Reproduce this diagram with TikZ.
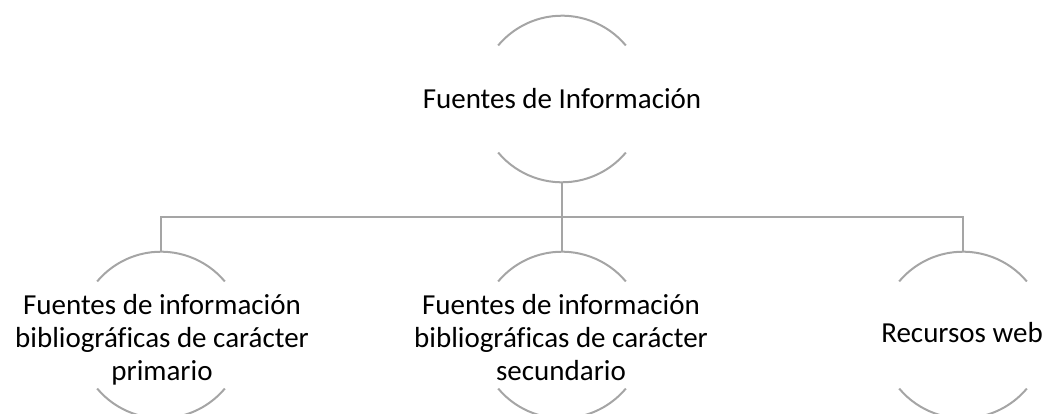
\documentclass[tikz,border=0pt]{standalone}
\usepackage{fontspec}
\setmainfont{Carlito}[Ligatures=NoCommon]
\begin{document}
\begin{tikzpicture}[x=1pt,y=-1pt,
  ring/.style={circle,draw=none,minimum size=166.6pt,inner sep=0pt,outer sep=0pt},
  arcline/.style={draw=arcgray,line width=2pt},
  conn/.style={draw=arcgray,line width=2pt},
  lbl/.style={inner sep=0pt,align=center,text=black,font=\fontsize{29}{33}\selectfont}]
\definecolor{arcgray}{HTML}{A5A5A5}
\useasboundingbox (0,0) rectangle (1048,414);
% circles (only top and bottom arcs drawn)
\node[ring] (top) at (562,99) {};
\node[ring] (c1) at (161,335) {};
\node[ring] (c2) at (562,335) {};
\node[ring] (c3) at (963,335) {};
\foreach \n in {top,c1,c2,c3}{
  \draw[arcline] (\n.40) arc[start angle=40,end angle=140,radius=83.3pt];
  \draw[arcline] (\n.220) arc[start angle=220,end angle=320,radius=83.3pt];
}
% connectors
\coordinate (bus) at (562,216.7);
\draw[conn] (top.south) -- (top.south |- bus);
\draw[conn] (c1.north) -- (c1.north |- bus) -- (c3.north |- bus) -- (c3.north);
\draw[conn] (c2.north) -- (c2.north |- bus);
% labels
\node[lbl,anchor=base] (ttop) at (562,108.5) {Fuentes de Información};
\node[lbl] (t1) at (162,340) {Fuentes de información\\bibliográficas de carácter\\primario};
\node[lbl] (t2) at (561,337.5) {Fuentes de información\\bibliográficas de carácter\\secundario};
\node[lbl,anchor=base] (t3) at (962,342) {Recursos web};
\end{tikzpicture}
\end{document}
